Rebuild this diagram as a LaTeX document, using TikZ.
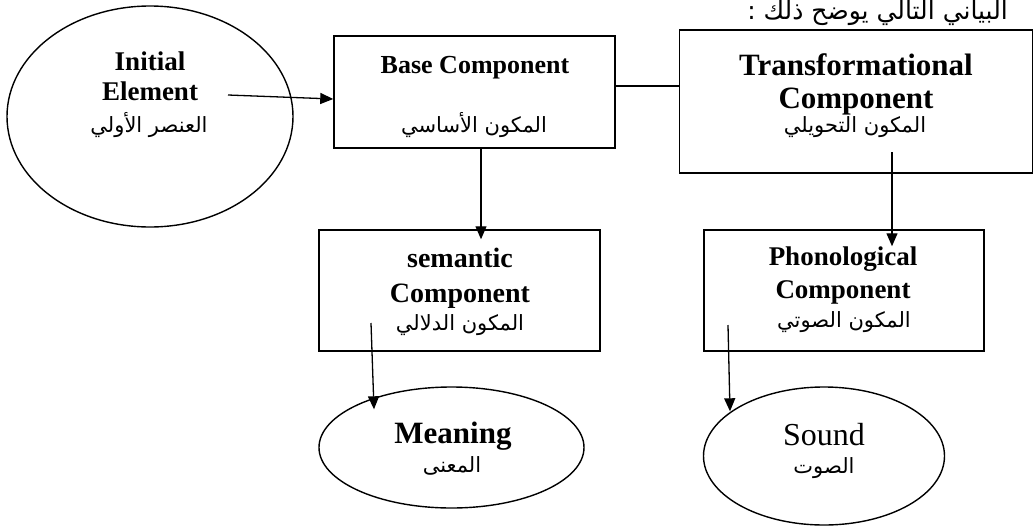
\documentclass[tikz,border=0pt]{standalone}
\usepackage{fontspec}
\setmainfont{Liberation Serif}
\newfontfamily\arabicfont[Script=Arabic]{DejaVu Sans}
\TeXXeTstate=1
\usetikzlibrary{shapes.geometric,arrows.meta,calc}
\newcommand{\artext}[1]{{\arabicfont\beginR #1\endR}}
\begin{document}
\begin{tikzpicture}[x=1pt,y=-1pt,
  box/.style={draw,line width=1.5pt,rectangle,inner sep=0pt},
  oval/.style={draw,line width=1.4pt,ellipse,inner sep=0pt},
  en/.style={inner sep=0pt,anchor=base,font=\bfseries\fontsize{#1}{#1}\selectfont},
  enr/.style={inner sep=0pt,anchor=base,font=\fontsize{#1}{#1}\selectfont},
  ar/.style={inner sep=0pt,anchor=base,font=\fontsize{#1}{#1}\selectfont},
  arr/.style={line width=1.3pt,-{Triangle[length=13pt,width=11pt]}},
  con/.style={line width=1.3pt}]
\useasboundingbox (0,0) rectangle (1034,528);

% top text (clipped at top as in the reference)
\node[ar=25,anchor=base east] (top) at (1008,19) {\artext{البياني التالي يوضح ذلك :}};

% shapes
\node[oval,minimum width=286pt,minimum height=221pt] (init) at (150,116.5) {};
\node[box,minimum width=281pt,minimum height=112pt] (base) at (474.5,92) {};
\node[box,minimum width=353pt,minimum height=143pt] (trans) at (856,101.5) {};
\node[box,minimum width=281pt,minimum height=121pt] (sem) at (459.5,290.5) {};
\node[box,minimum width=280pt,minimum height=121pt] (phon) at (844,290.5) {};
\node[oval,minimum width=265pt,minimum height=121pt] (mean) at (451.5,447.5) {};
\node[oval,minimum width=241pt,minimum height=138pt] (sound) at (824,456) {};

% labels
\node[en=27] (i1) at (150,70) {Initial};
\node[en=27] (i2) at (150,100) {Element};
\node[ar=21] (i3) at (149,132) {\artext{العنصر الأولي}};

\node[en=26] (b1) at (475,73) {Base Component};
\node[ar=21] (b2) at (474,132) {\artext{المكون الأساسي}};

\node[en=31] (t1) at (856,75) {Transformational};
\node[en=31] (t2) at (856,108) {Component};
\node[ar=21] (t3) at (855,132) {\artext{المكون التحويلي}};

\node[en=28] (s1) at (460,267) {semantic};
\node[en=28] (s2) at (460,302) {Component};
\node[ar=21] (s3) at (460,330) {\artext{المكون الدلالي}};

\node[en=27] (p1) at (843,265) {Phonological};
\node[en=27] (p2) at (843,298) {Component};
\node[ar=21] (p3) at (844,327) {\artext{المكون الصوتي}};

\node[en=31] (m1) at (453,443) {Meaning};
\node[ar=21] (m2) at (452,472) {\artext{المعنى}};

\node[enr=32] (so1) at (824,445) {Sound};
\node[ar=21] (so2) at (824,473) {\artext{الصوت}};

% connectors
\coordinate (a0) at (228,95);
\draw[arr] (a0) -- ($(base.west)+(0,7)$);
\draw[con] (base.east |- 0,86) -- (trans.west |- 0,86);
\draw[arr] (base.south -| 481,0) -- ($(sem.north -| 481,0)+(0,10)$);
\coordinate (a1) at (892,152);
\draw[arr] (a1) -- ($(phon.north -| 892,0)+(0,17)$);
\coordinate (a2) at (371,323);
\draw[arr] (a2) -- ($(mean.north -| 374,0)+(0,23)$);
\coordinate (a3) at (728,325);
\draw[arr] (a3) -- ($(sound.north -| 730,0)+(0,25)$);
\end{tikzpicture}
\end{document}
